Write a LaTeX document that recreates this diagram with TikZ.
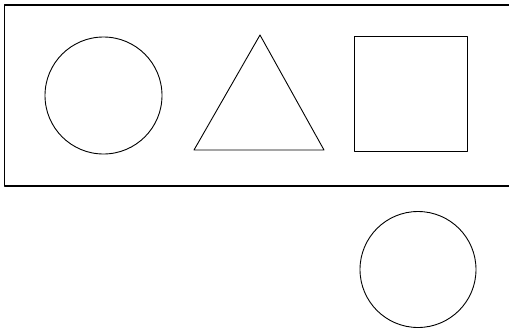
\documentclass[tikz,border=0pt]{standalone}
\usepackage{tikz}
\usetikzlibrary{positioning}

\begin{document}
\begin{tikzpicture}[x=1pt,y=-1pt,line join=round]
      \useasboundingbox (0,0) rectangle (509,333);
      \clip (0,0) rectangle (509,333);
      \draw[line width=1.1pt] (4.5,5) rectangle (515,186);
      \draw[line width=0.9pt] (103.5,95.5) circle (58.5);
      \draw[line width=0.9pt] (194,150)--(260,35)--(324,150)--cycle;
      \draw[line width=0.9pt] (354,36) rectangle (467,151);
      \draw[line width=0.9pt] (418,269.5) circle (58);
    \end{tikzpicture}
\end{document}
